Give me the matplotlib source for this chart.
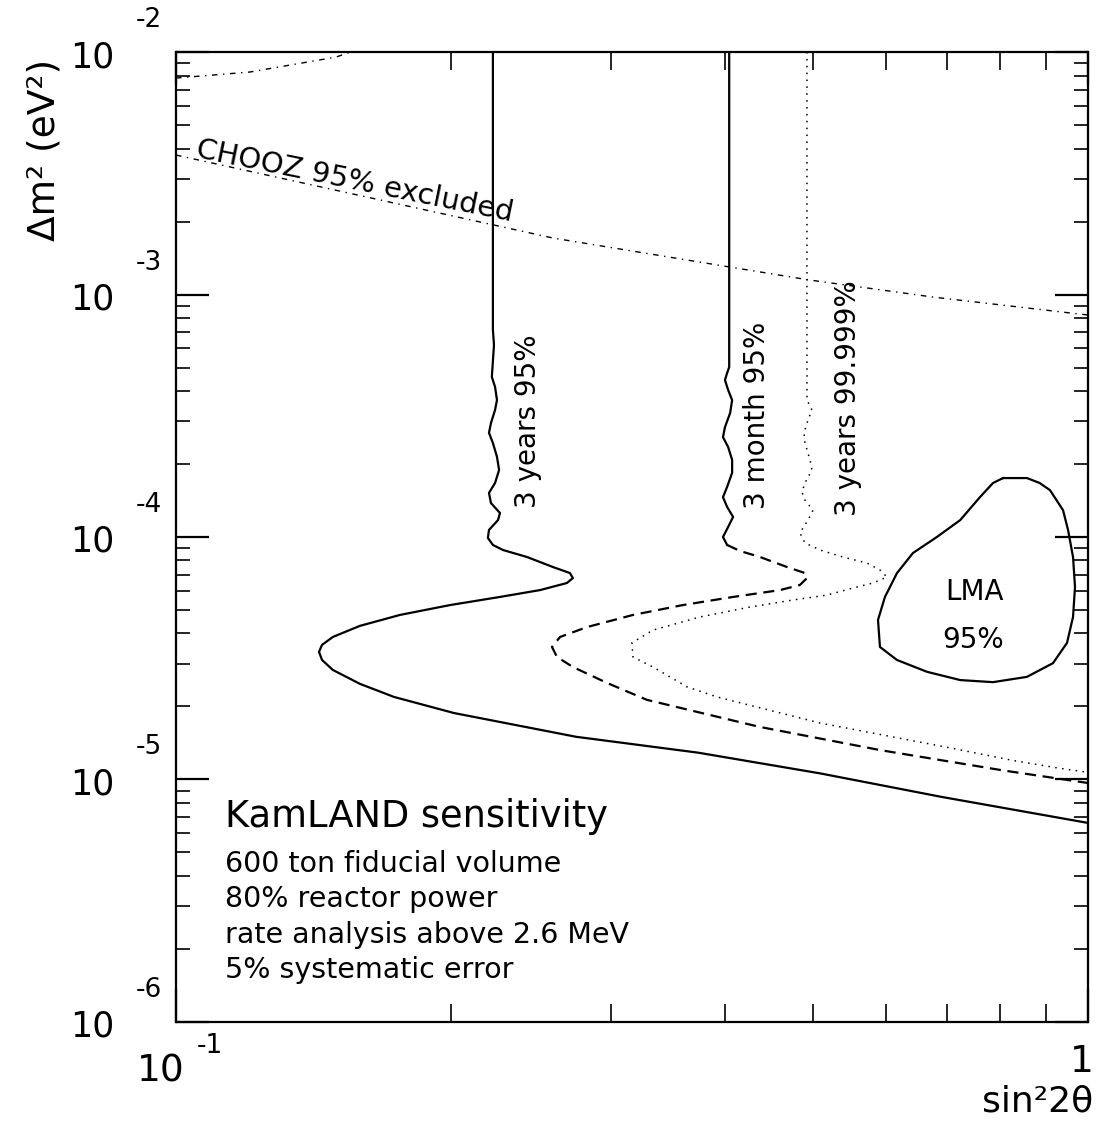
import numpy as np
import matplotlib
matplotlib.use("Agg")
import matplotlib.pyplot as plt
from matplotlib.ticker import LogLocator, NullFormatter

# ---------------- data ----------------
# 3 years 95% C.L. (solid)
yr3_x = [0.2226, 0.2226, 0.2232, 0.2220, 0.2238, 0.2249, 0.2238, 0.2215, 0.2204, 0.2226,
         0.2249, 0.2261, 0.2238, 0.2204, 0.2215, 0.2266, 0.2255, 0.2204, 0.2198, 0.2226,
         0.2283, 0.2426, 0.2590, 0.2704, 0.2724, 0.2683, 0.2507, 0.2266, 0.1998, 0.1760,
         0.1591, 0.1486, 0.1446, 0.1435, 0.1446, 0.1486, 0.1591, 0.1734, 0.2017, 0.2746,
         0.3737, 0.5083, 0.6916, 1.0]
yr3_y = [1e-2, 7.14e-4, 6.19e-4, 4.57e-4, 4.16e-4, 3.67e-4, 3.34e-4, 2.95e-4, 2.69e-4, 2.44e-4,
         2.14e-4, 1.89e-4, 1.67e-4, 1.52e-4, 1.38e-4, 1.256e-4, 1.175e-4, 1.069e-4, 9.91e-5, 9.27e-5,
         8.84e-5, 8.27e-5, 7.52e-5, 7.10e-5, 6.77e-5, 6.46e-5, 6.04e-5, 5.66e-5, 5.24e-5, 4.77e-5,
         4.30e-5, 3.87e-5, 3.59e-5, 3.36e-5, 3.11e-5, 2.83e-5, 2.48e-5, 2.19e-5, 1.88e-5, 1.50e-5,
         1.29e-5, 1.06e-5, 8.47e-6, 6.62e-6]

# 3 month 95% C.L. (solid upper part, dashed lower part)
mo3_x = [0.4042, 0.4042, 0.4021, 0.3999, 0.4031, 0.4072, 0.4052, 0.3999, 0.3979, 0.4031,
         0.4072, 0.4072, 0.4021, 0.3979, 0.4021, 0.4082, 0.4031, 0.3979, 0.4021, 0.4153,
         0.4369, 0.4677, 0.4894, 0.4919, 0.4832, 0.4595, 0.4082, 0.3596, 0.3170, 0.2822,
         0.2637, 0.2584, 0.2617, 0.2724, 0.2970, 0.3284, 0.4357, 0.5929, 0.8069, 1.0]
mo3_y = [1e-2, 5.02e-4, 4.75e-4, 4.44e-4, 4.04e-4, 3.67e-4, 3.25e-4, 2.84e-4, 2.58e-4, 2.35e-4,
         2.08e-4, 1.84e-4, 1.61e-4, 1.46e-4, 1.33e-4, 1.21e-4, 1.10e-4, 1.0e-4, 9.27e-5, 8.76e-5,
         8.27e-5, 7.52e-5, 7.10e-5, 6.77e-5, 6.34e-5, 6.04e-5, 5.66e-5, 5.24e-5, 4.77e-5, 4.25e-5,
         3.87e-5, 3.52e-5, 3.20e-5, 2.91e-5, 2.50e-5, 2.13e-5, 1.65e-5, 1.32e-5, 1.09e-5, 9.67e-6]
mo3_split = 18  # index where the line turns dashed

# 3 years 99.999% C.L. (dotted)
yr3hi_x = [0.4919, 0.4919, 0.4981, 0.4932, 0.4882, 0.4894, 0.4957, 0.4981, 0.4894, 0.4857,
           0.4894, 0.4994, 0.4932, 0.4832, 0.4894, 0.5083, 0.5386, 0.5724, 0.5914, 0.6020,
           0.5811, 0.5524, 0.5174, 0.4750, 0.4259, 0.3755, 0.3334, 0.3162, 0.3170, 0.3334,
           0.3634, 0.3919, 0.5083, 0.7061, 0.8255, 0.9271, 1.0]
yr3hi_y = [1e-2, 3.67e-4, 3.34e-4, 3.04e-4, 2.69e-4, 2.44e-4, 2.08e-4, 1.89e-4, 1.67e-4, 1.53e-4,
           1.42e-4, 1.29e-4, 1.175e-4, 1.04e-4, 9.45e-5, 8.84e-5, 8.27e-5, 7.81e-5, 7.31e-5, 6.84e-5,
           6.46e-5, 6.16e-5, 5.76e-5, 5.50e-5, 5.14e-5, 4.68e-5, 4.13e-5, 3.66e-5, 3.20e-5, 2.91e-5,
           2.41e-5, 2.19e-5, 1.71e-5, 1.35e-5, 1.20e-5, 1.115e-5, 1.07e-5]

# CHOOZ 95% excluded (dash-dot), lower and upper branch
chooz_lo_x = [0.1, 0.259, 0.404, 0.4932, 0.676, 1.0]
chooz_lo_y = [3.76e-3, 1.71e-3, 1.30e-3, 1.15e-3, 9.76e-4, 8.23e-4]
chooz_hi_x = [0.1, 0.1205, 0.1498, 0.1553]
chooz_hi_y = [7.81e-3, 8.27e-3, 9.53e-3, 1e-2]

# LMA 95% region (closed contour)
lma_x = [0.8069, 0.8572, 0.8850, 0.9085, 0.9389, 0.9508, 0.9629, 0.9677, 0.9629, 0.9484,
         0.9155, 0.8572, 0.7868, 0.7244, 0.6660, 0.6174, 0.5914, 0.5885, 0.5989, 0.6174,
         0.6428, 0.6828, 0.7244, 0.7612, 0.7868, 0.8069]
lma_y = [1.75e-4, 1.75e-4, 1.67e-4, 1.56e-4, 1.29e-4, 1.07e-4, 8.27e-5, 6.22e-5, 4.68e-5, 3.66e-5,
         3.02e-5, 2.65e-5, 2.52e-5, 2.57e-5, 2.78e-5, 3.11e-5, 3.52e-5, 4.55e-5, 5.66e-5, 7.10e-5,
         8.59e-5, 1.0e-4, 1.175e-4, 1.46e-4, 1.67e-4, 1.75e-4]

y_decades = [-6, -5, -4, -3, -2]
x_decades = [-1, 0]

curve_labels = ["3 years 95%", "3 month 95%", "3 years 99.999%"]
curve_label_x = [0.2432, 0.4337, 0.5456]
curve_label_y = [3.01e-4, 3.18e-4, 3.74e-4]

info_title = "KamLAND sensitivity"
info_lines = ["600 ton fiducial volume", "80% reactor power",
              "rate analysis above 2.6 MeV", "5% systematic error"]

# ---------------- figure ----------------
fig = plt.figure(figsize=(10.99, 11.31), dpi=100)
ax = fig.add_axes([0.1601, 0.0964, 0.8299, 0.8576])
ax.set_xscale('log')
ax.set_yscale('log')
ax.set_xlim(0.1, 1.0)
ax.set_ylim(1e-6, 1e-2)

k = 'black'
lw = 1.6
ax.plot(yr3_x, yr3_y, color=k, lw=lw, solid_joinstyle='round')
ax.plot(mo3_x[:mo3_split + 1], mo3_y[:mo3_split + 1], color=k, lw=lw, solid_joinstyle='round')
ax.plot(mo3_x[mo3_split:], mo3_y[mo3_split:], color=k, lw=lw, linestyle=(0, (5, 3)))
ax.plot(yr3hi_x, yr3hi_y, color=k, lw=1.1, linestyle=(0, (1, 3.5)))
ax.plot(chooz_lo_x, chooz_lo_y, color=k, lw=1.0, linestyle=(0, (4, 4, 1, 4)))
ax.plot(chooz_hi_x, chooz_hi_y, color=k, lw=1.0, linestyle=(0, (4, 4, 1, 4)))
ax.plot(lma_x, lma_y, color=k, lw=lw, solid_joinstyle='round')

# curve labels
for t, lx, ly in zip(curve_labels, curve_label_x, curve_label_y):
    ax.text(lx, ly, t, rotation=90, ha='center', va='center', fontsize=20)

ax.text(0.7517, 5.93e-5, "LMA", ha='center', va='center', fontsize=20)
ax.text(0.7479, 3.76e-5, "95%", ha='center', va='center', fontsize=20)

ax.text(0.1049, 3.70e-3, "CHOOZ 95% excluded", rotation=-11.5, rotation_mode='anchor',
        ha='left', va='baseline', fontsize=21)

# info block
ax.text(0.0537, 0.201, info_title, transform=ax.transAxes, ha='left', va='baseline', fontsize=26.5)
for i, line in enumerate(info_lines):
    ax.text(0.0537, 0.1546 - i * 0.0365, line, transform=ax.transAxes,
            ha='left', va='baseline', fontsize=20.5)

# ticks
ax.xaxis.set_major_locator(LogLocator(base=10, numticks=10))
ax.xaxis.set_minor_locator(LogLocator(base=10, subs=np.arange(2, 10), numticks=10))
ax.yaxis.set_major_locator(LogLocator(base=10, numticks=10))
ax.yaxis.set_minor_locator(LogLocator(base=10, subs=np.arange(2, 10), numticks=20))
ax.xaxis.set_major_formatter(NullFormatter())
ax.xaxis.set_minor_formatter(NullFormatter())
ax.yaxis.set_major_formatter(NullFormatter())
ax.yaxis.set_minor_formatter(NullFormatter())
ax.tick_params(which='both', direction='in', top=True, right=True, color=k)
ax.tick_params(which='major', length=24, width=1.6)
ax.tick_params(which='minor', length=10, width=1.2)
ax.tick_params(axis='x', which='minor', length=13)
for s in ax.spines.values():
    s.set_linewidth(1.6)

# tick labels drawn as "10" with a detached exponent
ytr = ax.get_yaxis_transform()
for d in y_decades:
    ax.annotate("10", xy=(0, 10.0 ** d), xycoords=ytr, xytext=(-62, -5),
                textcoords='offset pixels', ha='right', va='center', fontsize=25,
                annotation_clip=False)
    ax.annotate("-%d" % (-d), xy=(0, 10.0 ** d), xycoords=ytr, xytext=(-40, 32),
                textcoords='offset pixels', ha='left', va='center', fontsize=19,
                annotation_clip=False)

xtr = ax.get_xaxis_transform()
ax.annotate("10", xy=(10.0 ** x_decades[0], 0), xycoords=xtr, xytext=(9, -50),
            textcoords='offset pixels', ha='right', va='center', fontsize=27,
            annotation_clip=False)
ax.annotate("-1", xy=(10.0 ** x_decades[0], 0), xycoords=xtr, xytext=(21, -24),
            textcoords='offset pixels', ha='left', va='center', fontsize=19,
            annotation_clip=False)
ax.annotate("1", xy=(10.0 ** x_decades[1], 0), xycoords=xtr, xytext=(6, -40),
            textcoords='offset pixels', ha='right', va='center', fontsize=27,
            annotation_clip=False)

ax.text(1.0055, -0.0928, "sin²2θ", transform=ax.transAxes, ha='right', va='baseline',
        fontsize=26)
ax.text(-0.1436, 0.899, "Δm² (eV²)", transform=ax.transAxes, rotation=90,
        ha='center', va='center', fontsize=27)

fig.savefig("out.png", dpi=100)
